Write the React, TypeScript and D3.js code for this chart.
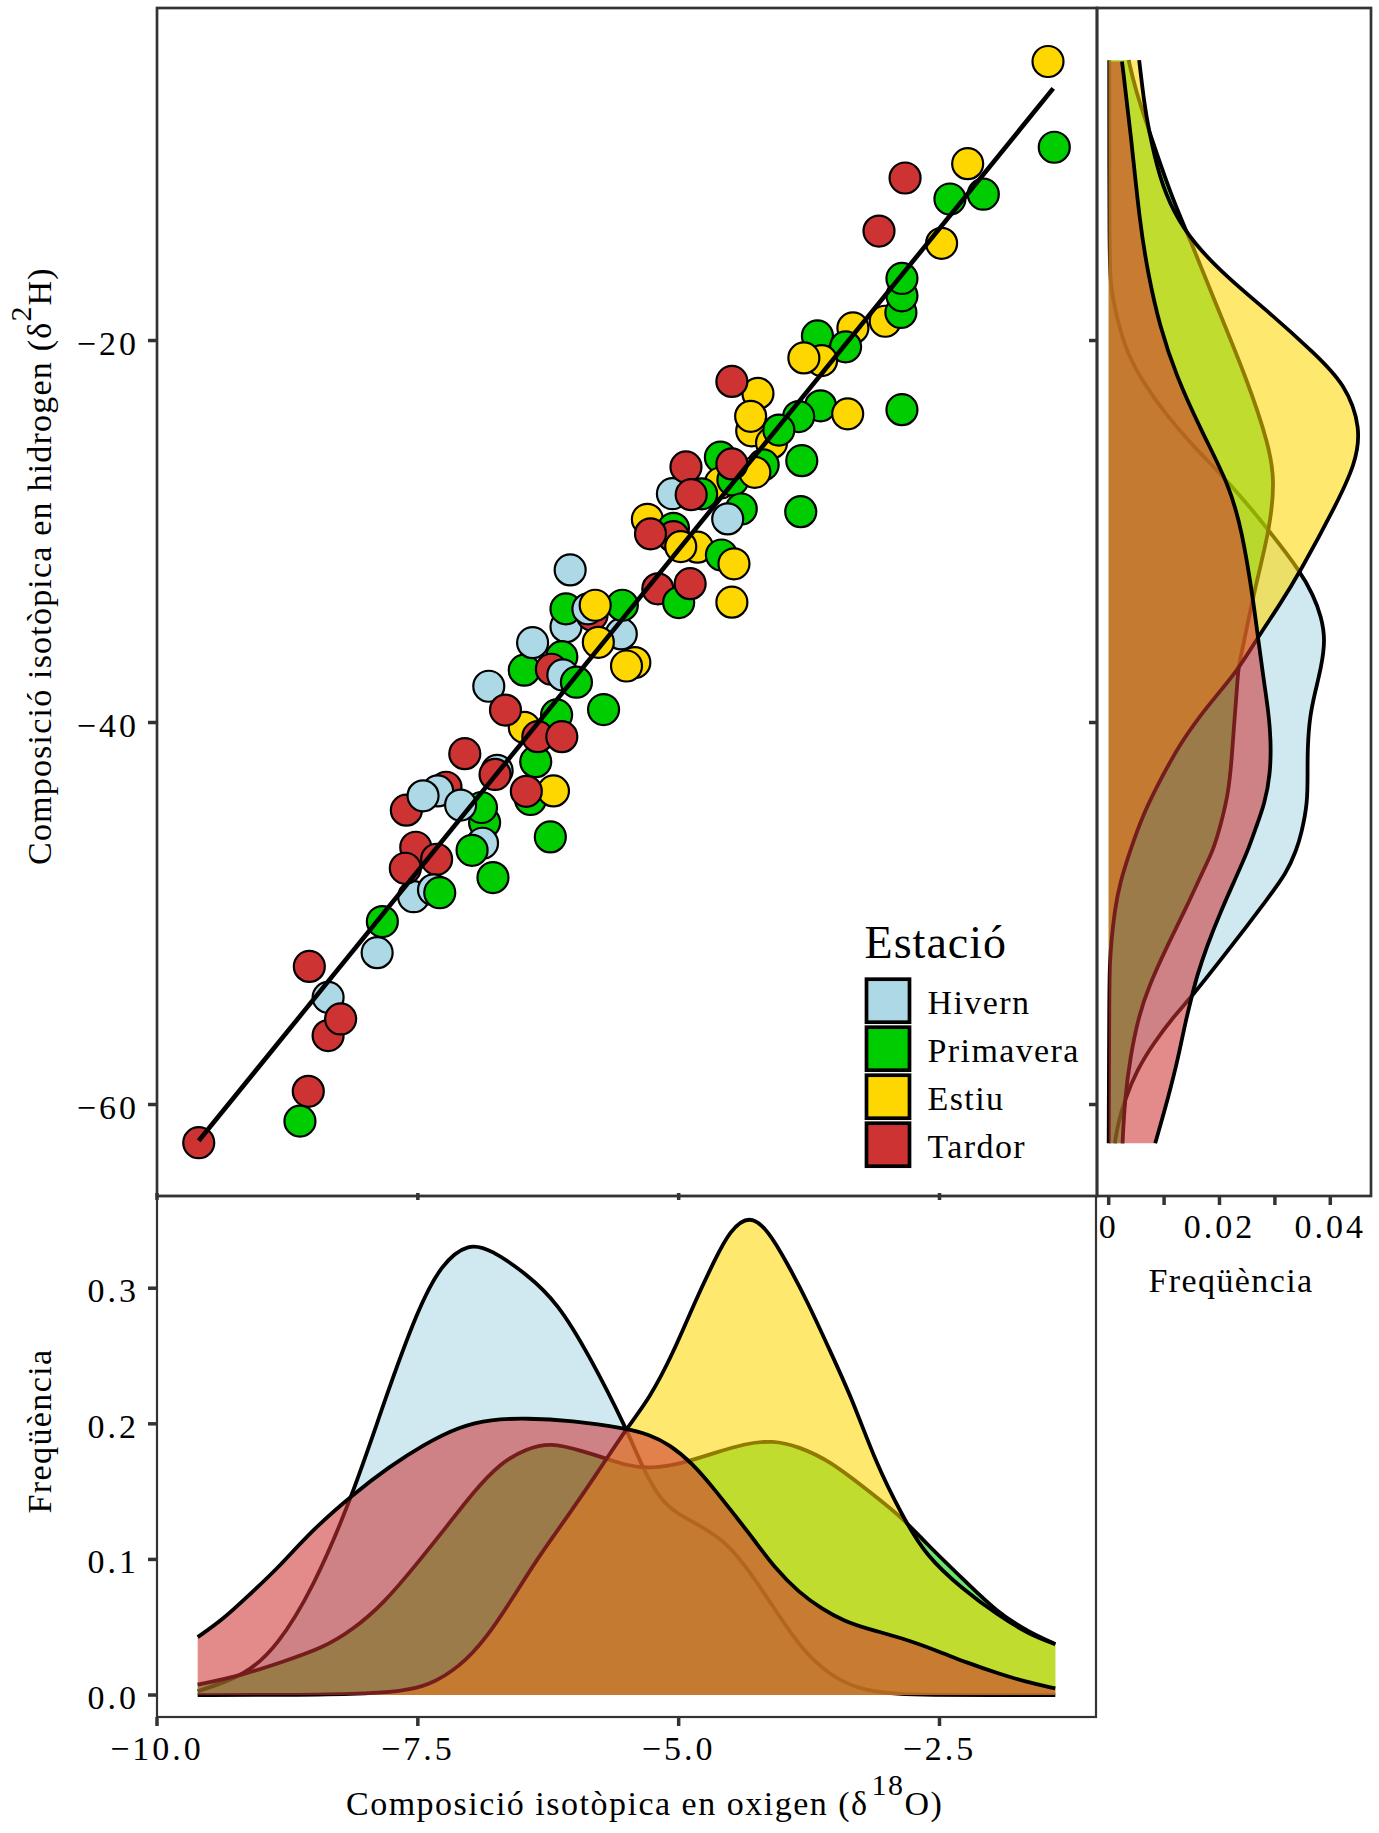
import React, { useEffect, useRef } from "react";
import * as d3 from "d3";

type Pair = [number, number];

const seasonNames = ["Hivern", "Primavera", "Estiu", "Tardor"];
const seasonColors = ["#ADD8E6", "#00CD00", "#FFD700", "#CD3333"];

// season index, d18O, d2H -- listed in drawing order, overlaps depend on it
const pointRows: [number, number, number][] = [
  [2, -1.46, -5.39], [1, -1.4, -9.88], [2, -2.23, -10.74], [3, -2.83, -11.49],
  [1, -2.08, -12.34], [1, -2.4, -12.59], [3, -3.08, -14.27], [2, -2.48, -14.91],
  [2, -3.02, -18.99], [1, -2.87, -18.53], [1, -2.86, -17.66], [1, -2.86, -16.75],
  [1, -3.67, -19.76], [2, -3.33, -19.34], [1, -3.4, -20.33], [2, -3.63, -21.05],
  [2, -3.8, -20.91], [1, -2.86, -23.62], [2, -4.24, -22.77], [3, -4.49, -22.14],
  [1, -3.64, -23.42], [2, -3.38, -23.84], [1, -3.85, -23.98], [2, -4.3, -24.73],
  [2, -4.31, -23.97], [2, -4.11, -25.36], [1, -4.04, -24.69], [1, -3.82, -26.29],
  [1, -3.83, -28.96], [1, -4.19, -26.51], [1, -4.6, -26.11], [2, -4.6, -27.46],
  [1, -4.48, -27.3], [2, -4.27, -26.9], [3, -4.49, -26.46], [1, -4.4, -28.82],
  [0, -4.53, -29.34], [0, -5.06, -28.02], [3, -4.93, -26.62], [1, -4.78, -28.03],
  [3, -4.88, -28.07], [2, -5.3, -29.36], [1, -5.05, -29.83], [3, -5.05, -30.27],
  [3, -5.27, -30.12], [2, -4.82, -30.82], [2, -4.98, -30.79], [1, -4.59, -31.23],
  [2, -4.47, -31.69], [3, -5.2, -33.0], [1, -5.0, -33.72], [3, -4.89, -32.73],
  [2, -4.49, -33.7], [0, -6.04, -32.01], [0, -6.08, -34.98], [1, -6.08, -34.05],
  [3, -5.83, -34.37], [0, -5.87, -34.05], [0, -5.55, -35.36], [1, -5.54, -33.86],
  [2, -5.8, -33.86], [2, -5.77, -35.8], [2, -5.42, -36.86], [2, -5.5, -37.04],
  [1, -6.12, -36.55], [1, -6.48, -37.26], [0, -6.4, -35.82], [3, -6.22, -37.21],
  [0, -6.11, -37.51], [1, -5.98, -37.89], [0, -6.82, -38.1], [1, -5.72, -39.32],
  [2, -6.48, -40.25], [3, -6.66, -39.35], [1, -6.17, -39.6], [1, -6.37, -42.05],
  [3, -6.35, -40.74], [3, -6.12, -40.74], [3, -7.05, -41.63], [0, -6.74, -42.51],
  [3, -6.76, -42.72], [1, -6.42, -44.03], [2, -6.2, -43.58], [3, -6.46, -43.6],
  [3, -7.23, -43.39], [0, -7.31, -43.58], [3, -7.61, -44.59], [0, -7.45, -43.84],
  [1, -6.86, -45.24], [1, -6.89, -44.45], [0, -7.09, -44.32], [1, -6.23, -45.99],
  [0, -6.88, -46.32], [1, -6.98, -46.69], [3, -7.52, -46.53], [3, -7.32, -47.16],
  [0, -7.54, -49.12], [3, -7.62, -47.63], [1, -6.78, -48.12], [0, -7.35, -48.76],
  [1, -7.29, -48.91], [1, -7.84, -50.42], [0, -7.89, -52.05], [3, -8.54, -52.77],
  [0, -8.36, -54.39], [3, -8.36, -56.39], [3, -8.24, -55.52], [3, -8.55, -59.31],
  [1, -8.63, -60.87], [3, -9.6, -62.0],
];

const fitLine: Pair[] = [[-9.6, -61.9], [-1.41, -6.8]];

// density along d18O: [d18O, frequency]
const hivernOxygen: Pair[] = [
  [-9.61, 0.0028], [-9.15, 0.0144], [-8.85, 0.0359], [-8.51, 0.0774], [-8.12, 0.148],
  [-7.82, 0.2171], [-7.5, 0.2847], [-7.27, 0.3185], [-7.01, 0.3335], [-6.8, 0.3285],
  [-6.46, 0.3108], [-6.16, 0.2893], [-5.86, 0.2509], [-5.5, 0.1966], [-5.35, 0.168],
  [-5.17, 0.1434], [-5.02, 0.1342], [-4.8, 0.125], [-4.54, 0.1127], [-4.29, 0.0881],
  [-4.03, 0.0574], [-3.81, 0.0329], [-3.55, 0.0144], [-3.26, 0.0037], [-2.89, 0.0006],
  [-2.6, 0], [-2.0, 0], [-1.39, 0],
];
const primaveraOxygen: Pair[] = [
  [-9.61, 0.0077], [-9.19, 0.0144], [-8.77, 0.0252], [-8.42, 0.0344], [-8.12, 0.0482],
  [-7.82, 0.0682], [-7.52, 0.0958], [-7.23, 0.1235], [-6.97, 0.1496], [-6.71, 0.1711],
  [-6.46, 0.1818], [-6.22, 0.1862], [-5.94, 0.1803], [-5.68, 0.1741], [-5.51, 0.1695],
  [-5.27, 0.1667], [-4.95, 0.1711], [-4.65, 0.1787], [-4.36, 0.1855], [-4.1, 0.1878],
  [-3.85, 0.1833], [-3.55, 0.1726], [-3.19, 0.1511], [-2.86, 0.1311], [-2.64, 0.1127],
  [-2.27, 0.0851], [-1.94, 0.0605], [-1.65, 0.0467], [-1.39, 0.0375],
];
const estiuOxygen: Pair[] = [
  [-9.61, 0], [-8.9, 0], [-8.08, 0.0006], [-7.65, 0.0028], [-7.4, 0.0068], [-7.1, 0.0206],
  [-6.84, 0.0421], [-6.58, 0.0728], [-6.33, 0.1035], [-6.07, 0.1311], [-5.77, 0.1649],
  [-5.5, 0.1966], [-5.28, 0.2187], [-5.06, 0.2509], [-4.84, 0.2908], [-4.65, 0.3216],
  [-4.51, 0.3425], [-4.32, 0.3545], [-4.14, 0.3425], [-3.96, 0.3185], [-3.77, 0.2908],
  [-3.55, 0.254], [-3.33, 0.2171], [-3.11, 0.1711], [-2.86, 0.1327], [-2.64, 0.1035],
  [-2.27, 0.0774], [-1.94, 0.059], [-1.65, 0.0451], [-1.39, 0.0375],
];
const tardorOxygen: Pair[] = [
  [-9.61, 0.0427], [-9.365, 0.0559], [-9.11, 0.0743], [-8.85, 0.0928], [-8.51, 0.1219],
  [-8.12, 0.148], [-7.78, 0.168], [-7.44, 0.1849], [-7.1, 0.1981], [-6.8, 0.2033],
  [-6.46, 0.2042], [-6.03, 0.2024], [-5.5, 0.1966], [-5.28, 0.192], [-5.09, 0.1849],
  [-4.87, 0.1711], [-4.65, 0.1511], [-4.47, 0.1333], [-4.29, 0.1158], [-4.07, 0.0928],
  [-3.85, 0.0759], [-3.63, 0.0636], [-3.41, 0.0544], [-3.19, 0.0488], [-2.86, 0.0421],
  [-2.53, 0.0329], [-2.23, 0.0236], [-1.94, 0.016], [-1.68, 0.0098], [-1.39, 0.0049],
];

// density along d2H: [d2H, frequency]
const hivernHydrogen: Pair[] = [
  [-5.32, 0.0001], [-15.96, 0.0001], [-17.13, 0.0004], [-18.53, 0.0012], [-20.63, 0.0032],
  [-22.27, 0.0064], [-23.91, 0.0104], [-25.54, 0.0153], [-26.71, 0.0193], [-28.23, 0.0241],
  [-29.98, 0.029], [-32.09, 0.0346], [-33.32, 0.0369], [-34.46, 0.0384], [-35.68, 0.0391],
  [-37.07, 0.0384], [-38.47, 0.0372], [-39.69, 0.0363], [-41.26, 0.0359], [-42.66, 0.0359],
  [-44.23, 0.0359], [-45.8, 0.0348], [-46.67, 0.0339], [-47.89, 0.0321], [-49.29, 0.0285],
  [-50.68, 0.0249], [-52.25, 0.0207], [-54.35, 0.015], [-55.4, 0.0117], [-56.79, 0.0081],
  [-58.19, 0.0051], [-59.76, 0.0029], [-60.98, 0.0017], [-62.03, 0.0011],
];
const primaveraHydrogen: Pair[] = [
  [-5.32, 0.0036], [-6.84, 0.0048], [-8.95, 0.0072], [-12.45, 0.0113], [-14.56, 0.0145],
  [-18.06, 0.0193], [-22.04, 0.025], [-25.54, 0.029], [-27.41, 0.03], [-29.98, 0.029],
  [-33.06, 0.0263], [-36.38, 0.024], [-37.07, 0.0234], [-38.47, 0.0231], [-40.22, 0.0226],
  [-41.96, 0.0222], [-43.71, 0.0216], [-45.28, 0.0203], [-46.67, 0.0189], [-47.72, 0.0171],
  [-49.64, 0.0141], [-51.73, 0.0105], [-53.83, 0.0072], [-55.4, 0.0054], [-57.49, 0.0039],
  [-59.76, 0.0029], [-62.03, 0.0025],
];
const estiuHydrogen: Pair[] = [
  [-5.32, 0.0055], [-7.54, 0.0064], [-8.95, 0.0072], [-11.52, 0.0092], [-13.27, 0.0117],
  [-14.91, 0.0153], [-16.78, 0.0217], [-18.53, 0.029], [-20.63, 0.037], [-22.27, 0.0427],
  [-24.61, 0.0456], [-26.48, 0.0445], [-28.58, 0.0411], [-32.09, 0.0346], [-33.96, 0.0306],
  [-35.5, 0.027], [-37.25, 0.0234], [-39.17, 0.0177], [-41.09, 0.0129], [-43.01, 0.0093],
  [-44.75, 0.0063], [-46.67, 0.0039], [-48.42, 0.002], [-49.81, 0.0011], [-51.38, 0.0005],
  [-52.6, 0.0002], [-54.17, 0.0001], [-62.03, 0],
];
const tardorHydrogen: Pair[] = [
  [-5.39, 0.0024], [-9.18, 0.004], [-13.85, 0.0056], [-16.66, 0.0072], [-19.23, 0.0092],
  [-21.8, 0.0121], [-24.84, 0.0169], [-27.53, 0.0217], [-29.98, 0.0241], [-33.6, 0.0261],
  [-35.68, 0.027], [-37.6, 0.0279], [-39.34, 0.0288], [-40.91, 0.0293], [-42.66, 0.0292],
  [-44.23, 0.0282], [-45.63, 0.0264], [-46.67, 0.0252], [-48.41, 0.0225], [-49.98, 0.0201],
  [-51.73, 0.0177], [-53.3, 0.0159], [-54.35, 0.015], [-55.74, 0.0138], [-57.49, 0.0126],
  [-59.59, 0.0108], [-62.03, 0.0084],
];

const oxygenDensities = [hivernOxygen, primaveraOxygen, estiuOxygen, tardorOxygen];
const hydrogenDensities = [hivernHydrogen, primaveraHydrogen, estiuHydrogen, tardorHydrogen];

const xTicks = [-10, -7.5, -5, -2.5];
const yTicks = [-60, -40, -20];
const freqTicks = [0, 0.1, 0.2, 0.3];
const sideTicks = [0, 0.01, 0.02, 0.03, 0.04];
const sideLabels = ["0", "", "0.02", "", "0.04"];

const font = "'Liberation Serif', serif";
const border = "#333333";
const FILL_ALPHA = 0.57;
const STROKE = 3.8;

const App: React.FC = () => {
  const svgRef = useRef<SVGSVGElement>(null);

  useEffect(() => {
    if (!svgRef.current) return;
    const svg = d3.select(svgRef.current);
    svg.selectAll("*").remove();

    const left = 157, mid = 1097, right = 1371, top = 8, split = 1196, bottom = 1717;

    const xScale = d3.scaleLinear().domain([-10, -1]).range([left, 1096]);
    const yScale = d3.scaleLinear().domain([-64.79, -2.59]).range([split, top]);
    const freqScale = d3.scaleLinear().domain([-0.0162, 0.368]).range([bottom, split]);
    const sideScale = d3.scaleLinear().domain([-0.00211, 0.04735]).range([mid, right]);

    // Density areas, each fill goes under its own outline and over the earlier ones
    const curve = d3.curveBasis;
    const oxArea = d3.area<Pair>().x((d) => xScale(d[0])).y0(freqScale(0)).y1((d) => freqScale(d[1])).curve(curve);
    const oxLine = d3.line<Pair>().x((d) => xScale(d[0])).y((d) => freqScale(d[1])).curve(curve);
    const hyArea = d3.area<Pair>().y((d) => yScale(d[0])).x0(sideScale(0)).x1((d) => sideScale(d[1])).curve(curve);
    const hyLine = d3.line<Pair>().x((d) => sideScale(d[1])).y((d) => yScale(d[0])).curve(curve);

    seasonNames.forEach((_, i) => {
      svg.append("path").attr("d", oxArea(oxygenDensities[i])).attr("fill", seasonColors[i]).attr("fill-opacity", FILL_ALPHA);
      svg.append("path").attr("d", oxLine(oxygenDensities[i])).attr("fill", "none").attr("stroke", "#000").attr("stroke-width", STROKE);
      svg.append("path").attr("d", hyArea(hydrogenDensities[i])).attr("fill", seasonColors[i]).attr("fill-opacity", FILL_ALPHA);
      svg.append("path").attr("d", hyLine(hydrogenDensities[i])).attr("fill", "none").attr("stroke", "#000").attr("stroke-width", STROKE);
    });

    // Scatter, the order of the rows is the stacking order
    svg
      .append("g")
      .selectAll("circle")
      .data(pointRows)
      .join("circle")
      .attr("cx", (d) => xScale(d[1]))
      .attr("cy", (d) => yScale(d[2]))
      .attr("r", 15.5)
      .attr("fill", (d) => seasonColors[d[0]])
      .attr("stroke", "#000")
      .attr("stroke-width", 2.2);

    const fit = d3.line<Pair>().x((d) => xScale(d[0])).y((d) => yScale(d[1]));
    svg.append("path").attr("d", fit(fitLine)).attr("fill", "none").attr("stroke", "#000").attr("stroke-width", 4.6);

    // Panel borders
    const frame = (x: number, y: number, w: number, h: number, sw: number) =>
      svg.append("rect").attr("x", x).attr("y", y).attr("width", w).attr("height", h)
        .attr("fill", "none").attr("stroke", border).attr("stroke-width", sw);
    frame(left, split, 1096 - left, bottom - split, 2.2);
    frame(left, top, mid - left, split - top, 2.7);
    frame(mid, top, right - mid, split - top, 2.7);

    // Axes
    const styleAxis = (g: any, y: number | null, dy: number) => {
      g.select(".domain").remove();
      g.selectAll(".tick line").attr("stroke", border).attr("stroke-width", 3.5);
      g.selectAll(".tick text")
        .attr("font-family", font)
        .attr("font-size", 34)
        .attr("letter-spacing", 3)
        .attr("fill", "#000")
        .attr("dy", dy);
      if (y !== null) g.selectAll(".tick text").attr("y", y);
    };

    svg.append("g")
      .attr("transform", `translate(0,${bottom})`)
      .call(d3.axisBottom(xScale).tickValues(xTicks).tickSize(9).offset(0).tickFormat(d3.format(".1f") as any))
      .call((g: any) => styleAxis(g, 43, 0));

    svg.append("g")
      .attr("transform", `translate(${left},0)`)
      .call(d3.axisLeft(freqScale).tickValues(freqTicks).tickSize(9).tickPadding(9).offset(0).tickFormat(d3.format(".1f") as any))
      .call((g: any) => styleAxis(g, null, 14));

    svg.append("g")
      .attr("transform", `translate(${left},0)`)
      .call(d3.axisLeft(yScale).tickValues(yTicks).tickSize(9).tickPadding(9).offset(0).tickFormat(d3.format("d") as any))
      .call((g: any) => styleAxis(g, null, 14));

    // ticks of the scatter that stick into the neighbouring panels
    svg.append("g")
      .attr("transform", `translate(0,${split - 3})`)
      .call(d3.axisBottom(xScale).tickValues(xTicks).tickSize(7).offset(0).tickFormat(() => ""))
      .call((g: any) => styleAxis(g, null, 0));

    svg.append("g")
      .attr("transform", `translate(${mid},0)`)
      .call(d3.axisLeft(yScale).tickValues(yTicks).tickSize(8).offset(0).tickFormat(() => ""))
      .call((g: any) => styleAxis(g, null, 0));

    svg.append("g")
      .attr("transform", `translate(0,${split})`)
      .call(d3.axisBottom(sideScale).tickValues(sideTicks).tickSize(9).offset(0).tickFormat((_, i) => sideLabels[i]))
      .call((g: any) => styleAxis(g, 42, 0));

    // Titles
    const label = (x: number, y: number, size: number, spacing: number, rotate = false) =>
      svg.append("text")
        .attr("transform", rotate ? `translate(${x},${y}) rotate(-90)` : `translate(${x},${y})`)
        .attr("font-family", font)
        .attr("font-size", size)
        .attr("letter-spacing", spacing)
        .attr("fill", "#000");

    const xTitle = label(346, 1815, 34, 1.5);
    xTitle.append("tspan").text("Composició isotòpica en oxigen (δ");
    xTitle.append("tspan").attr("font-size", 30).attr("dx", 3).attr("dy", -20).text("18");
    xTitle.append("tspan").attr("dy", 20).text("O)");

    const yTitle = label(51, 865, 34, 1.2, true);
    yTitle.append("tspan").text("Composició isotòpica en hidrogen (δ");
    yTitle.append("tspan").attr("font-size", 30).attr("dy", -20).text("2");
    yTitle.append("tspan").attr("dy", 20).text("H)");

    label(51, 1431, 34, 1.4, true).attr("text-anchor", "middle").text("Freqüència");
    label(1231, 1292, 34, 1.4).attr("text-anchor", "middle").text("Freqüència");

    // Legend
    label(864.6, 958, 46, 1).text("Estació");
    const keys = svg.append("g").selectAll("g").data(seasonNames).join("g")
      .attr("transform", (_, i) => `translate(866.5,${979.2 + i * 48})`);
    keys.append("rect")
      .attr("width", 43).attr("height", 43)
      .attr("fill", (_, i) => seasonColors[i])
      .attr("stroke", "#000").attr("stroke-width", 3.7);
    keys.append("text")
      .attr("x", 61).attr("y", 34.5)
      .attr("font-family", font).attr("font-size", 34).attr("letter-spacing", 1.4)
      .text((d) => d);
  }, []);

  return (
    <svg
      ref={svgRef}
      width={1379}
      height={1833}
      viewBox="0 0 1379 1833"
      style={{ position: "absolute", left: 0, top: 0, background: "#fff" }}
    />
  );
};

export default App;
